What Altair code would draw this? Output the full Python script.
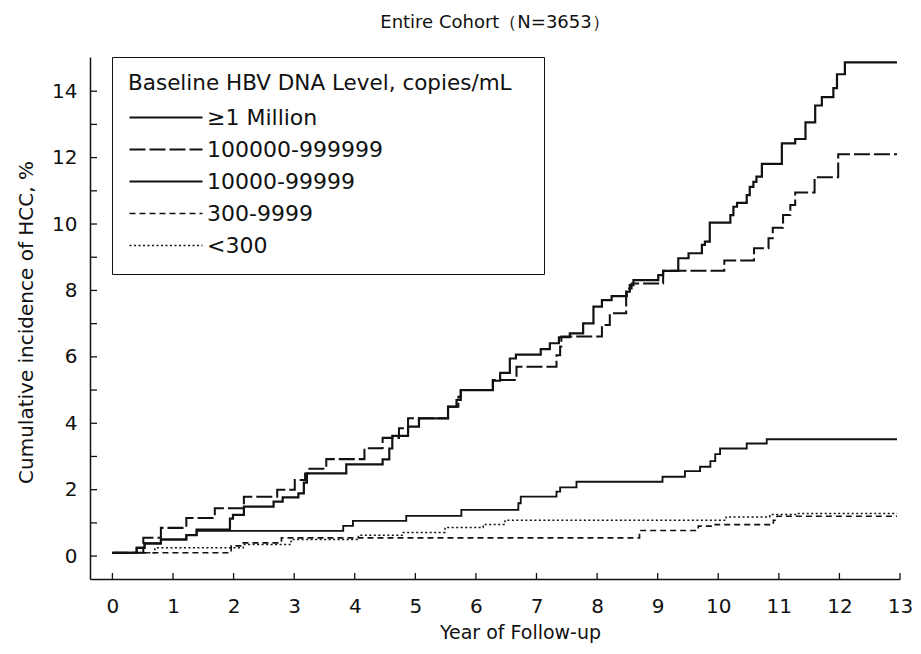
import altair as alt
import pandas as pd

# ---------------- data ----------------
SERIES = ["≥1 Million", "100000-999999", "10000-99999", "300-9999", "<300"]

T_1M = [0, 0.40, 0.53, 0.80, 1.22, 1.39, 1.94, 1.99, 2.17, 2.66, 2.81, 3.07, 3.16, 3.21, 3.86,
        4.46, 4.57, 4.62, 4.88, 5.06, 5.54, 5.68, 5.75, 6.28, 6.40, 6.56, 6.66, 7.07, 7.22, 7.37,
        7.55, 7.77, 7.94, 8.08, 8.24, 8.49, 8.54, 8.60, 9.01, 9.09, 9.34, 9.51, 9.73, 9.78, 9.86,
        10.20, 10.25, 10.31, 10.47, 10.52, 10.58, 10.63, 10.72, 11.05, 11.27, 11.44, 11.60, 11.71,
        11.90, 11.96, 12.09, 12.95]
V_1M = [0.10, 0.25, 0.38, 0.50, 0.63, 0.80, 1.13, 1.24, 1.49, 1.64, 1.77, 1.89, 2.21, 2.49, 2.76,
        2.91, 3.24, 3.62, 3.90, 4.15, 4.50, 4.70, 5.00, 5.28, 5.52, 5.95, 6.07, 6.23, 6.41, 6.59,
        6.71, 7.01, 7.51, 7.71, 7.83, 7.96, 8.16, 8.31, 8.46, 8.59, 8.97, 9.12, 9.37, 9.47, 10.04,
        10.27, 10.52, 10.64, 10.87, 11.12, 11.27, 11.43, 11.81, 12.43, 12.56, 13.06, 13.57, 13.82,
        14.09, 14.51, 14.87, 14.87]

T_100K = [0, 0.51, 0.80, 1.22, 1.69, 2.17, 2.72, 3.01, 3.18, 3.23, 3.53, 4.16, 4.46, 4.73, 4.88,
          5.54, 5.71, 5.75, 6.28, 6.67, 7.33, 7.39, 7.41, 8.08, 8.21, 8.48, 8.57, 9.09, 10.10,
          10.59, 10.83, 10.90, 11.07, 11.19, 11.27, 11.59, 11.98, 12.95]
V_100K = [0.10, 0.55, 0.85, 1.15, 1.44, 1.79, 2.00, 2.29, 2.49, 2.63, 2.92, 3.25, 3.56, 3.85, 4.15,
          4.50, 4.80, 5.00, 5.30, 5.70, 6.05, 6.31, 6.61, 6.96, 7.31, 8.06, 8.21, 8.59, 8.90,
          9.27, 9.57, 9.89, 10.27, 10.57, 10.95, 11.41, 12.10, 12.10]

T_10K = [0, 0.40, 0.53, 0.80, 1.22, 1.39, 3.81, 3.97, 4.85, 5.76, 6.70, 6.74, 7.33, 7.39, 7.66,
         9.08, 9.45, 9.70, 9.87, 9.95, 10.03, 10.47, 10.80, 12.95]
V_10K = [0.10, 0.25, 0.38, 0.50, 0.63, 0.76, 0.91, 1.06, 1.21, 1.39, 1.59, 1.79, 1.94, 2.07, 2.24,
         2.39, 2.56, 2.69, 2.86, 3.07, 3.24, 3.39, 3.52, 3.52]

T_300 = [0, 1.96, 2.16, 2.79, 8.70, 9.67, 9.95, 10.91, 10.97, 12.95]
V_300 = [0.10, 0.31, 0.40, 0.55, 0.77, 0.90, 0.95, 1.08, 1.20, 1.20]

T_LT300 = [0, 0.70, 2.16, 2.95, 4.06, 4.80, 5.49, 6.12, 6.48, 10.13, 10.85, 11.30, 12.95]
V_LT300 = [0.10, 0.25, 0.35, 0.50, 0.63, 0.71, 0.86, 0.95, 1.08, 1.18, 1.25, 1.28, 1.28]

X_TICKS = list(range(0, 14))
Y_TICKS = list(range(0, 15))

# ---------------- build tables ----------------
rows = []
for name, ts, vs in zip(SERIES, [T_1M, T_100K, T_10K, T_300, T_LT300],
                        [V_1M, V_100K, V_10K, V_300, V_LT300]):
    for t, v in zip(ts, vs):
        rows.append({"level": name, "t": t, "v": v})
df = pd.DataFrame(rows)

FONT = "DejaVu Sans"
INK = "#111111"
W, H = 810, 522

XS = alt.Scale(domain=[-0.37, 13.0], nice=False, zero=False)
YS = alt.Scale(domain=[-0.69, 15.03], nice=False, zero=False)

XA = alt.Axis(values=X_TICKS, ticks=False, tickSize=0, grid=False, labelFlush=False,
              labelOverlap=False, labelPadding=17, labelFontSize=20, labelFont=FONT,
              labelColor=INK, domainColor=INK, domainWidth=1.5,
              title="Year of Follow-up", titleFont=FONT, titleFontSize=19,
              titleFontWeight="normal", titleColor=INK, titleX=430, titleY=53,
              titleAlign="center", titleBaseline="middle")
YA = alt.Axis(values=Y_TICKS, ticks=False, tickSize=0, grid=False, labelFlush=False,
              labelOverlap=False, labelExpr="datum.value % 2 === 0 ? datum.label : ''",
              labelPadding=13, labelFontSize=20, labelFont=FONT, labelColor=INK,
              domainColor=INK, domainWidth=1.5,
              title="Cumulative incidence of HCC, %", titleFont=FONT, titleFontSize=20,
              titleFontWeight="normal", titleColor=INK, titleAngle=270, titleX=-64,
              titleY=265, titleAlign="center", titleBaseline="middle")

LEG = alt.Legend(title="Baseline HBV DNA Level, copies/mL" + "\u2800", orient="none",
                 legendX=22, legendY=0, direction="vertical",
                 strokeColor=INK, fillColor="white", padding=16, cornerRadius=0,
                 titleFont=FONT, titleFontSize=21.5, titleFontWeight="normal", titleColor=INK,
                 titleLimit=800, titlePadding=11, labelFont=FONT, labelFontSize=22,
                 labelColor=INK, labelLimit=600, labelOffset=3, symbolType="stroke",
                 symbolSize=5329, symbolStrokeColor=INK, clipHeight=24, rowPadding=8)

DASHES = [[1, 0], [16, 4], [1, 0], [6, 4], [2, 2.5]]
WIDTHS = [2.2, 1.5, 1.3, 1.4, 1.4]

lines = alt.Chart(df).mark_line(interpolate="step-after", color=INK).encode(
    x=alt.X("t:Q", scale=XS, axis=XA),
    y=alt.Y("v:Q", scale=YS, axis=YA),
    strokeDash=alt.StrokeDash("level:N", scale=alt.Scale(domain=SERIES, range=DASHES), legend=LEG),
    strokeWidth=alt.StrokeWidth("level:N", scale=alt.Scale(domain=SERIES, range=WIDTHS), legend=LEG),
)

xticks = alt.Chart(pd.DataFrame({"t": X_TICKS})).mark_rule(color=INK, strokeWidth=1.3).encode(
    x=alt.X("t:Q", scale=XS, axis=XA), y=alt.value(H), y2=alt.value(H - 6))
yticks = alt.Chart(pd.DataFrame({"v": Y_TICKS})).mark_rule(color=INK, strokeWidth=1.3).encode(
    y=alt.Y("v:Q", scale=YS, axis=YA), x=alt.value(0), x2=alt.value(7))

chart = alt.layer(lines, xticks, yticks).properties(
    width=W, height=H,
    title=alt.TitleParams("Entire Cohort（N=3653）", font=FONT,
                          fontSize=18, fontWeight="normal", color=INK, anchor="middle",
                          frame="group", baseline="alphabetic", offset=11),
    autosize=alt.AutoSizeParams(type="none"),
    padding={"left": 82, "top": 49, "right": 13, "bottom": 67},
    background="white",
).configure_view(stroke=None)

chart.save("out.html", embed_options={"renderer": "svg", "actions": False})
